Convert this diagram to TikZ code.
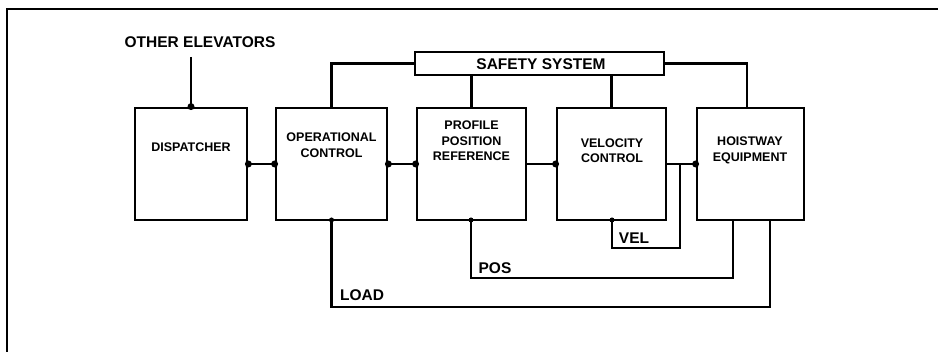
\documentclass[tikz,border=0pt]{standalone}
\usepackage{fontspec}
\setmainfont{Liberation Sans}
\begin{document}
\begin{tikzpicture}[x=1pt,y=-1pt,
  blk/.style={draw, line width=2.8pt, minimum height=112pt, inner sep=0pt},
  lbl/.style={font=\bfseries\fontsize{12.5}{15.5}\selectfont, align=center, inner sep=0pt},
  big/.style={font=\bfseries\fontsize{15.5}{18}\selectfont, inner sep=0pt},
  wire/.style={line width=2.5pt},
  frame/.style={line width=2pt},
  jdot/.style={circle, fill, inner sep=0pt, minimum size=7pt},
  sdot/.style={circle, fill, inner sep=0pt, minimum size=5pt}]
\useasboundingbox (0,0) rectangle (938,352);
% frame
\coordinate (f1) at (7,352);
\coordinate (f2) at (7,9);
\coordinate (f3) at (938,9);
\draw[frame] (f1) -- (f2) -- (f3);
% blocks
\node[blk, minimum width=112pt] (disp) at (191,164) {};
\node[blk, minimum width=111pt] (op) at (331.5,164) {};
\node[blk, minimum width=109pt] (prof) at (471.5,164) {};
\node[blk, minimum width=109pt] (vel) at (611.5,164) {};
\node[blk, minimum width=107pt] (hoist) at (750.5,164) {};
\node[draw, line width=2.8pt, minimum width=249pt, minimum height=23pt, inner sep=0pt] (ss) at (539.5,63.5) {};
% labels
\node[big] (oe) at (200,42.5) {OTHER ELEVATORS};
\node[big] (sst) at (541,64) {SAFETY SYSTEM};
\node[lbl] (tdisp) at (191,147) {DISPATCHER};
\node[lbl] (top) at (331.5,145) {OPERATIONAL\\CONTROL};
\node[lbl] (tprof) at (471.5,141) {PROFILE\\POSITION\\REFERENCE};
\node[lbl] (tvel) at (612,150.5) {VELOCITY\\CONTROL};
\node[lbl] (thoist) at (750,150.5) {HOISTWAY\\EQUIPMENT};
\node[big] (lvel) at (634,238.5) {VEL};
\node[big] (lpos) at (495,268) {POS};
\node[big] (lload) at (362,295) {LOAD};
% other elevators
\coordinate (oetop) at (191,57);
\draw[wire] (oetop) -- (disp.north);
\node[jdot] (d0) at (disp.north) {};
% forward chain
\draw[wire] (disp.east) -- (op.west);
\draw[wire] (op.east) -- (prof.west);
\draw[wire] (prof.east) -- (vel.west);
\draw[wire] (vel.east) -- (hoist.west);
\node[jdot] (d1) at (disp.east) {};
\node[jdot] (d2) at (op.west) {};
\node[jdot] (d3) at (op.east) {};
\node[jdot] (d4) at (prof.west) {};
\node[jdot] (d5) at (vel.west) {};
\node[jdot] (d6) at (hoist.west) {};
% safety system links
\draw[wire] (op.north) |- (ss.west);
\draw[wire] (ss.south -| prof.north) -- (prof.north);
\draw[wire] (ss.south -| vel.north) -- (vel.north);
\coordinate (hs) at (747,108);
\draw[wire] (ss.east) -| (hs);
% VEL feedback
\coordinate (vt) at (680,164);
\coordinate (vb) at (680,248);
\coordinate (vs) at (612,220);
\draw[wire] (vt) -- (vb) -| (vs);
\node[sdot] (d7) at (vs) {};
% POS feedback
\coordinate (ps) at (733,220);
\coordinate (pb) at (733,278);
\coordinate (pe) at (471,220);
\draw[wire] (ps) -- (pb) -| (pe);
\node[sdot] (d8) at (pe) {};
% LOAD feedback
\coordinate (ls) at (770,220);
\coordinate (lb) at (770,307);
\coordinate (le) at (331.5,220);
\draw[wire] (ls) -- (lb) -| (le);
\node[sdot] (d9) at (le) {};
\end{tikzpicture}
\end{document}
